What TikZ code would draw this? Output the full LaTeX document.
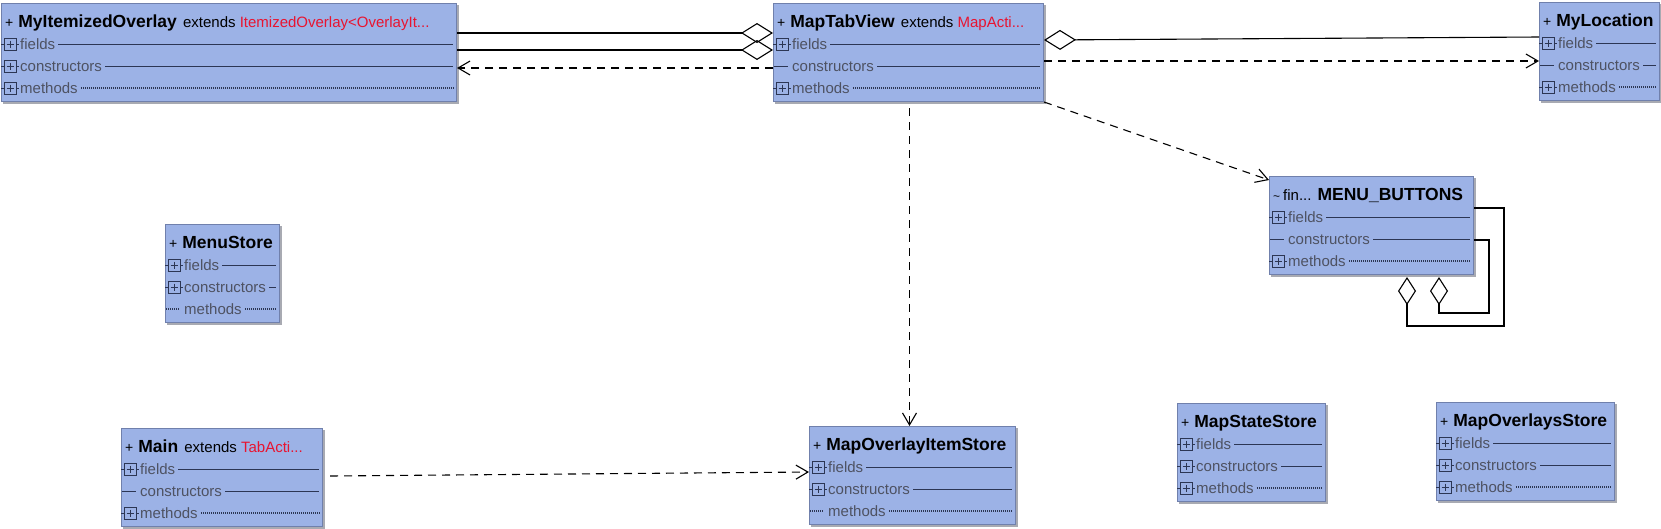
\documentclass[tikz,border=0pt]{standalone}
\usepackage{fontspec}
\setmainfont{Liberation Sans}
\usetikzlibrary{arrows.meta}

\definecolor{boxfill}{RGB}{156,178,230}
\definecolor{boxedge}{RGB}{112,128,172}
\definecolor{boxshade}{RGB}{168,170,178}
\definecolor{rowink}{RGB}{44,54,84}
\definecolor{rowgrey}{RGB}{78,82,98}
\definecolor{extred}{RGB}{232,20,48}

\tikzset{
  classbox/.style={draw=boxedge, line width=1pt, fill=boxfill, anchor=north west,
    minimum height=98pt, inner sep=0pt},
  classtitle/.style={anchor=west, inner sep=0pt, text height=13pt, text depth=0pt,
    font=\fontsize{15}{18}\selectfont},
  rowtext/.style={anchor=west, inner sep=0pt, text height=11pt, text depth=0pt,
    text=rowgrey, font=\fontsize{15}{18}\selectfont},
  solidrule/.style={draw=rowink, line width=0.8pt},
  dotrule/.style={draw=rowink, line width=1.1pt, dash pattern=on 1pt off 1pt},
  pics/plusmark/.style={code={
    \draw[rowink, line width=0.7pt] (0,0) -- (3,0) (15,0) -- (18,0);
    \draw[rowink, line width=0.9pt] (3,-6) rectangle (15,6);
    \draw[rowink, line width=1pt] (5.5,0) -- (12.5,0) (9,-3.5) -- (9,3.5);
  }},
  pics/emptymark/.style={code={\draw[solidrule] (1,0) -- (15,0);}},
  pics/dotmark/.style={code={\draw[dotrule] (1,0) -- (15,0);}},
  owns/.style={draw, line width=1.1pt, -{Diamond[open, length=32pt, width=20pt]}},
  ownsself/.style={draw, line width=1.1pt, -{Diamond[open, length=28pt, width=18pt]}},
  depends/.style={draw, line width=1.1pt, dash pattern=on 8pt off 6pt,
    -{Straight Barb[length=12pt, width=14pt]}},
}

% class box: name, x, y, width, title
\newcommand{\classbox}[5]{%
  \node[classbox, minimum width=#4pt] (#1) at (#2,#3) {};
  \draw[boxshade, line width=2pt] ([shift={(1pt,-2pt)}]#1.north east)
    |- ([shift={(2pt,-1pt)}]#1.south west);
  \node[classtitle] (#1-title) at ([shift={(4pt,-18pt)}]#1.north west) {#5};
}
% rows: name, list of mark/rule/label
\newcommand{\classrows}[2]{%
  \foreach \rowmark/\rowrule/\rowname [count=\i] in {#2} {
    \pgfmathsetmacro{\rowy}{19+22*\i}
    \coordinate (#1-r) at ([yshift=-\rowy pt]#1.north west);
    \pic at (#1-r) {\rowmark};
    \node[rowtext] (#1-t) at ([xshift=19pt]#1-r) {\rowname};
    \coordinate (#1-e) at (#1-t.east -| #1.east);
    \draw[\rowrule] ([xshift=3pt]#1-t.east) -- ([xshift=-4pt]#1-e);
  }
}
\newcommand{\clsmark}[1]{{\fontsize{14}{16}\selectfont #1}\hspace{5pt}}
\newcommand{\clsname}[1]{{\fontsize{17.5}{20}\selectfont\bfseries #1}}

\begin{document}
\begin{tikzpicture}[x=1pt, y=-1pt]
\useasboundingbox (0,0) rectangle (1661,528);

\classbox{mio}{1}{3}{455}{\clsmark{+}\clsname{MyItemizedOverlay}\hspace{2pt} extends \textcolor{extred}{ItemizedOverlay<OverlayIt...}}
\classrows{mio}{plusmark/solidrule/fields, plusmark/solidrule/constructors, plusmark/dotrule/methods}

\classbox{mtv}{773}{3}{270}{\clsmark{+}\clsname{MapTabView}\hspace{2pt} extends \textcolor{extred}{MapActi...}}
\classrows{mtv}{plusmark/solidrule/fields, emptymark/solidrule/constructors, plusmark/dotrule/methods}

\classbox{ml}{1539}{2}{120}{\clsmark{+}\clsname{MyLocation}}
\classrows{ml}{plusmark/solidrule/fields, emptymark/solidrule/constructors, plusmark/dotrule/methods}

\classbox{mb}{1269}{176}{204}{{\fontsize{12}{14}\selectfont\textasciitilde}\hspace{3pt}fin...\hspace{6pt}\clsname{MENU\_BUTTONS}}
\classrows{mb}{plusmark/solidrule/fields, emptymark/solidrule/constructors, plusmark/dotrule/methods}

\classbox{ms}{165}{224}{114}{\clsmark{+}\clsname{MenuStore}}
\classrows{ms}{plusmark/solidrule/fields, plusmark/solidrule/constructors, dotmark/dotrule/methods}

\classbox{main}{121}{428}{201}{\clsmark{+}\clsname{Main}\hspace{2pt} extends \textcolor{extred}{TabActi...}}
\classrows{main}{plusmark/solidrule/fields, emptymark/solidrule/constructors, plusmark/dotrule/methods}

\classbox{mois}{809}{426}{206}{\clsmark{+}\clsname{MapOverlayItemStore}}
\classrows{mois}{plusmark/solidrule/fields, plusmark/solidrule/constructors, dotmark/dotrule/methods}

\classbox{mss}{1177}{403}{148}{\clsmark{+}\clsname{MapStateStore}}
\classrows{mss}{plusmark/solidrule/fields, plusmark/solidrule/constructors, plusmark/dotrule/methods}

\classbox{mos}{1436}{402}{178}{\clsmark{+}\clsname{MapOverlaysStore}}
\classrows{mos}{plusmark/solidrule/fields, plusmark/solidrule/constructors, plusmark/dotrule/methods}

% aggregations
\path[owns] ([yshift=-30pt]mio.north east) -- ([yshift=-30pt]mtv.north west);
\path[owns] ([yshift=-47pt]mio.north east) -- ([yshift=-47pt]mtv.north west);
\path[owns] ([yshift=-35pt]ml.north west) -- ([yshift=-37pt]mtv.north east);
\path[ownsself] ([yshift=-32pt]mb.north east) -- ++(30,0) -- ++(0,118)
  -| ([shift={(-67pt,-2pt)}]mb.south east);
\path[ownsself] ([yshift=-64pt]mb.north east) -- ++(15,0) -- ++(0,73)
  -| ([shift={(-35pt,-2pt)}]mb.south east);

% dependencies
\path[depends] ([yshift=-65pt]mtv.north west) -- ([yshift=-65pt]mio.north east);
\path[depends] ([yshift=-58pt]mtv.north east) -- ([yshift=-59pt]ml.north west);
\path[depends] (mtv.south east) -- ([yshift=-4pt]mb.north west);
\path[depends] ([shift={(1pt,-6pt)}]mtv.south) -- ([xshift=1pt]mtv.south |- mois.north);
\path[depends] ([shift={(7pt,-48pt)}]main.north east) -- ([yshift=-46pt]mois.north west);
\end{tikzpicture}
\end{document}
